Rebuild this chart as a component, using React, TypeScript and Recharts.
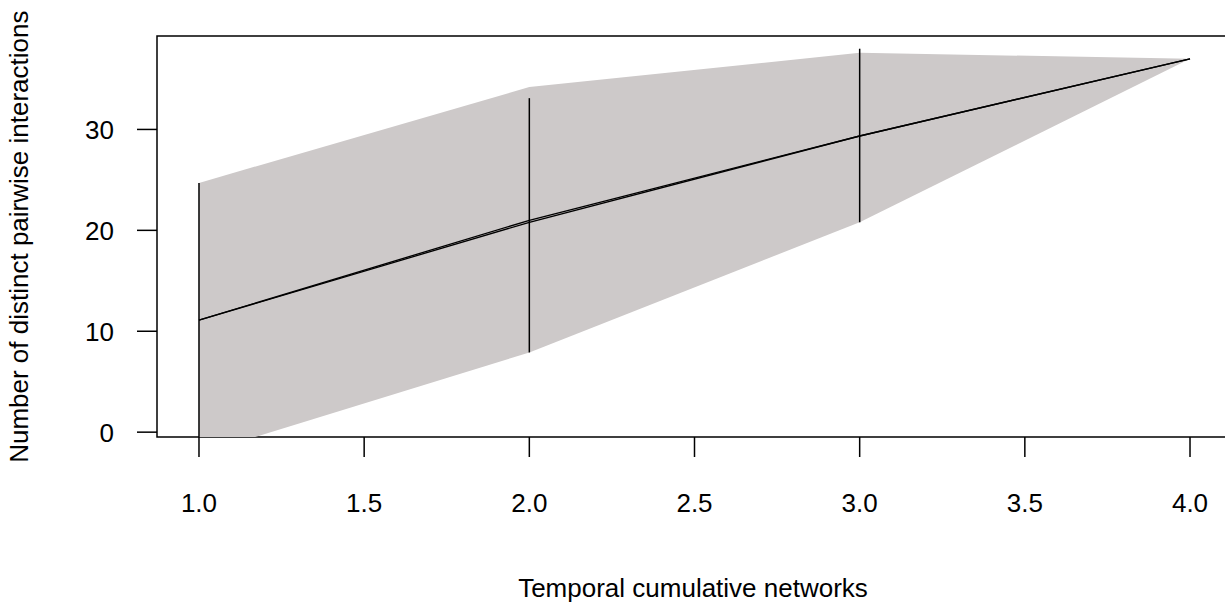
import React from 'react';
import { ComposedChart, Area, Line, XAxis, YAxis, ReferenceLine, ReferenceArea, Label } from 'recharts';

// networks on the x axis
const networks = [1, 2, 3, 4];
// shaded band (lower / upper)
const bandLow = [-2.2, 7.9, 20.8, 37];
const bandHigh = [24.7, 34.2, 37.6, 37];
// two nearly overlapping mean lines
const lineA = [11.1, 21.0, 29.35, 37];
const lineB = [11.1, 20.8, 29.35, 37];
// vertical bars
const barX = [1, 2, 3];
const barLow = [-3, 7.9, 20.8];
const barHigh = [24.7, 33.1, 38.0];

const xTicks = [1, 1.5, 2, 2.5, 3, 3.5, 4];
const yTicks = [0, 10, 20, 30];

const X_DOMAIN: [number, number] = [0.8729, 4.1271];
const Y_DOMAIN: [number, number] = [-0.48, 39.26];

const FONT = '"Liberation Sans", Arial, sans-serif';

const data = networks.map((x, i) => ({
  x,
  band: [bandLow[i], bandHigh[i]],
  a: lineA[i],
  b: lineB[i],
}));

const XTick = ({ x, payload }: any) => (
  <text x={x} y={511.5} textAnchor="middle" fontFamily={FONT} fontSize={26} fill="#000">
    {Number(payload.value).toFixed(1)}
  </text>
);

const YTick = ({ y, payload }: any) => (
  <text x={114} y={y + 9.5} textAnchor="end" fontFamily={FONT} fontSize={26} fill="#000">
    {payload.value}
  </text>
);

export default function App() {
  return (
    <div style={{ position: 'absolute', left: 0, top: 0, width: 1225, height: 603, overflow: 'hidden', background: '#fff' }}>
      <ComposedChart width={1240} height={603} data={data} margin={{ top: 36, right: 8, bottom: 0, left: 0 }}>
        <XAxis
          dataKey="x"
          type="number"
          domain={X_DOMAIN}
          allowDataOverflow
          ticks={xTicks}
          tickSize={20}
          tickLine={{ stroke: '#000', strokeWidth: 1.5 }}
          axisLine={false}
          tick={<XTick />}
          height={166}
          interval={0}
        >
          <Label
            content={() => (
              <text x={693} y={597} textAnchor="middle" fontFamily={FONT} fontSize={26} fill="#000">
                Temporal cumulative networks
              </text>
            )}
          />
        </XAxis>
        <YAxis
          type="number"
          domain={Y_DOMAIN}
          allowDataOverflow
          ticks={yTicks}
          tickSize={20}
          tickLine={{ stroke: '#000', strokeWidth: 1.5 }}
          axisLine={false}
          tick={<YTick />}
          width={157}
          interval={0}
        >
          <Label
            content={() => (
              <text
                x={28.5}
                y={236.7}
                transform="rotate(-90 28.5 236.7)"
                textAnchor="middle"
                fontFamily={FONT}
                fontSize={26}
                fill="#000"
              >
                Number of distinct pairwise interactions
              </text>
            )}
          />
        </YAxis>
        <ReferenceArea
          x1={X_DOMAIN[0]}
          x2={X_DOMAIN[1]}
          y1={Y_DOMAIN[0]}
          y2={Y_DOMAIN[1]}
          fill="none"
          stroke="#000"
          strokeWidth={1.5}
          fillOpacity={0}
          ifOverflow="visible"
        />
        <Area
          dataKey="band"
          type="linear"
          stroke="none"
          fill="#CDC9C9"
          fillOpacity={1}
          isAnimationActive={false}
          dot={false}
          activeDot={false}
        />
        {barX.map((bx, i) => (
          <ReferenceLine
            key={bx}
            segment={[
              { x: bx, y: barLow[i] },
              { x: bx, y: barHigh[i] },
            ]}
            stroke="#000"
            strokeWidth={1.5}
            ifOverflow="hidden"
          />
        ))}
        <Line dataKey="a" type="linear" stroke="#000" strokeWidth={1.3} dot={false} activeDot={false} isAnimationActive={false} />
        <Line dataKey="b" type="linear" stroke="#000" strokeWidth={1.3} dot={false} activeDot={false} isAnimationActive={false} />
      </ComposedChart>
    </div>
  );
}
